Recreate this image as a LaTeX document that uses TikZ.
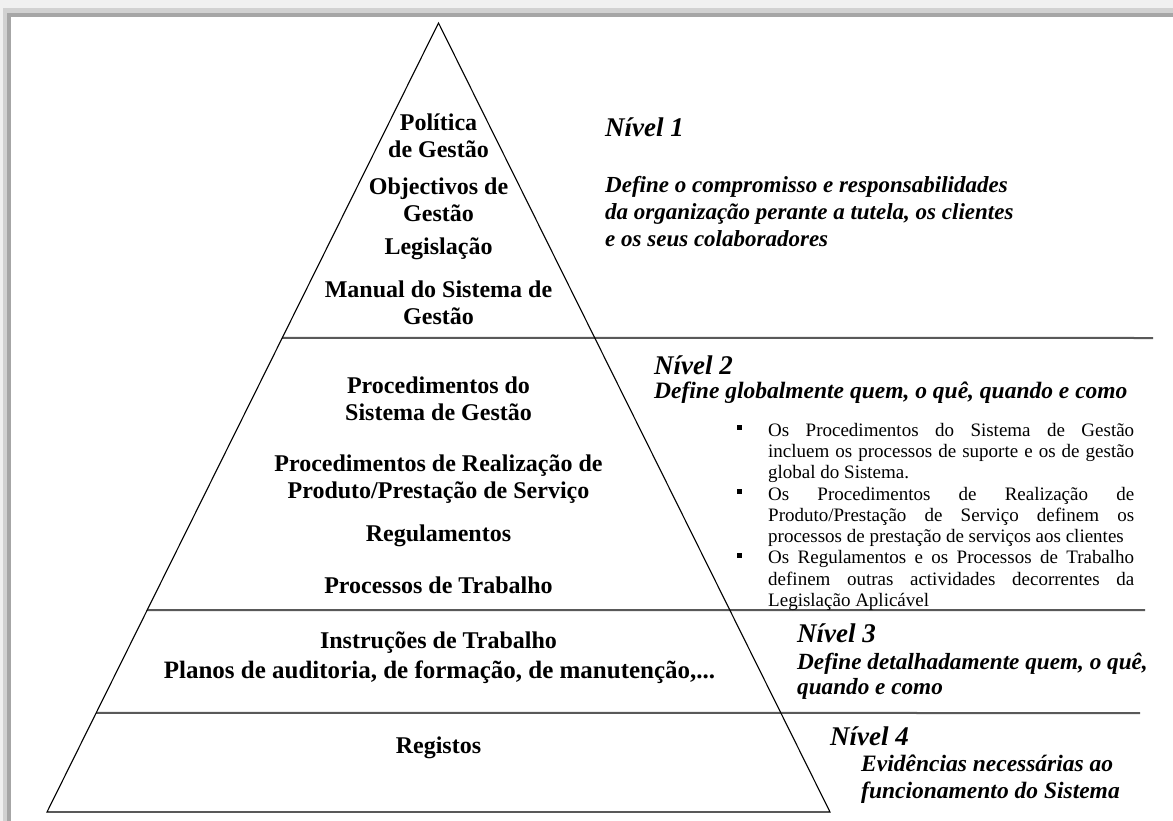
\documentclass[tikz,border=0pt]{standalone}
\usepackage{fontspec}
\setmainfont{Liberation Serif}
\usetikzlibrary{calc}
\begin{document}
\begin{tikzpicture}[x=1pt,y=-1pt,
  pyr/.style={font=\fontsize{24}{27}\selectfont\bfseries, align=center, inner sep=0pt},
  lvl/.style={font=\fontsize{27}{30}\selectfont\bfseries\itshape, anchor=west, inner sep=0pt},
  desc/.style={font=\fontsize{23}{27}\selectfont\bfseries\itshape, align=left, anchor=west, inner sep=0pt},
  bl/.style={font=\fontsize{19}{21}\selectfont, anchor=base west, inner sep=0pt},
  bul/.style={fill=black, minimum size=5pt, inner sep=0pt},
  edge/.style={draw=black, line width=1.1pt},
  sep/.style={draw=black!65, line width=2pt}]
\useasboundingbox (0,0) rectangle (1173,821);
% frame shadow
\fill[black!6] (0,0) rectangle (1173,9);
\fill[black!6] (0,0) rectangle (3,821);
\fill[black!18] (3,8) rectangle (1173,13);
\fill[black!18] (3,8) rectangle (7,821);
\fill[black!35] (7,13) rectangle (1173,17);
\fill[black!35] (7,13) rectangle (11,821);
\fill[white] (11,17) rectangle (1173,821);
% pyramid geometry
\coordinate (A) at (438.5,23);
\coordinate (BL) at (47,812);
\coordinate (BR) at (830,812);
\coordinate (L1) at ($(A)!0.3992!(BL)$);
\coordinate (L2) at ($(A)!0.7440!(BL)$);
\coordinate (L3) at ($(A)!0.8745!(BL)$);
\coordinate (R1) at (1153,338);
\coordinate (R2) at (1145,610);
\coordinate (R3) at (1140,713);
\draw[sep] (L1) -- (R1);
\draw[sep] (L2) -- (R2);
\draw[sep] (L3) -- (R3);
\draw[edge, line join=miter] (A) -- (BL) -- (BR) -- cycle;
% level 1 texts
\node[pyr] (p1) at (438.5,136) {Política\\de Gestão};
\node[pyr] (p2) at (438.5,199.5) {Objectivos de\\Gestão};
\node[pyr] (p3) at (438.5,249) {Legislação};
\node[pyr] (p4) at (438.5,302.5) {Manual do Sistema de\\Gestão};
% level 2 texts
\node[pyr] (q1) at (438.5,398.5) {Procedimentos do\\Sistema de Gestão};
\node[pyr] (q2) at (438.5,479) {Procedimentos de Realização de\\Produto/Prestação de Serviço};
\node[pyr] (q3) at (438.5,536) {Regulamentos};
\node[pyr] (q4) at (438.5,585) {Processos de Trabalho};
% level 3 / 4
\node[pyr] (r1) at (438.5,643) {Instruções de Trabalho};
\node[pyr, font=\fontsize{25}{27}\selectfont\bfseries] (r2) at (439.5,672) {Planos de auditoria, de formação, de manutenção,...};
\node[pyr] (s1) at (438.5,748) {Registos};
% right side
\node[lvl] (n1) at (605,127) {Nível 1};
\node[desc] (d1) at (605,212) {Define o compromisso e responsabilidades\\da organização perante a tutela, os clientes\\e os seus colaboradores};
\node[lvl] (n2) at (654,365) {Nível 2};
\node[desc, font=\fontsize{23.5}{27}\selectfont\bfseries\itshape] (d2) at (654,393) {Define globalmente quem, o quê, quando e como};
\node[lvl] (n3) at (797,633) {Nível 3};
\node[desc, font=\fontsize{23.2}{25.5}\selectfont\bfseries\itshape] (d3) at (797,676.5) {Define detalhadamente quem, o quê,\\quando e como};
\node[lvl] (n4) at (830,736) {Nível 4};
\node[desc, font=\fontsize{23.5}{27}\selectfont\bfseries\itshape] (d4) at (861,779.5) {Evidências necessárias ao\\funcionamento do Sistema};
% bullets
\node[bul] (bu1) at (739.5,427) {};
\node[bul] (bu2) at (739.5,491.5) {};
\node[bul] (bu3) at (739.5,555) {};
\node[bl] (t1) at (768,436) {\makebox[366pt][s]{Os Procedimentos do Sistema de Gestão}};
\node[bl] (t2) at (768,457.3) {\makebox[366pt][s]{incluem os processos de suporte e os de gestão}};
\node[bl] (t3) at (768,478.6) {global do Sistema.};
\node[bl] (t4) at (768,500) {\makebox[366pt][s]{Os Procedimentos de Realização de}};
\node[bl] (t5) at (768,521.2) {\makebox[366pt][s]{Produto/Prestação de Serviço definem os}};
\node[bl] (t6) at (768,542.5) {processos de prestação de serviços aos clientes};
\node[bl] (t7) at (768,563.8) {\makebox[366pt][s]{Os Regulamentos e os Processos de Trabalho}};
\node[bl] (t8) at (768,585) {\makebox[366pt][s]{definem outras actividades decorrentes da}};
\node[bl] (t9) at (768,606.4) {Legislação Aplicável};
\end{tikzpicture}
\end{document}
